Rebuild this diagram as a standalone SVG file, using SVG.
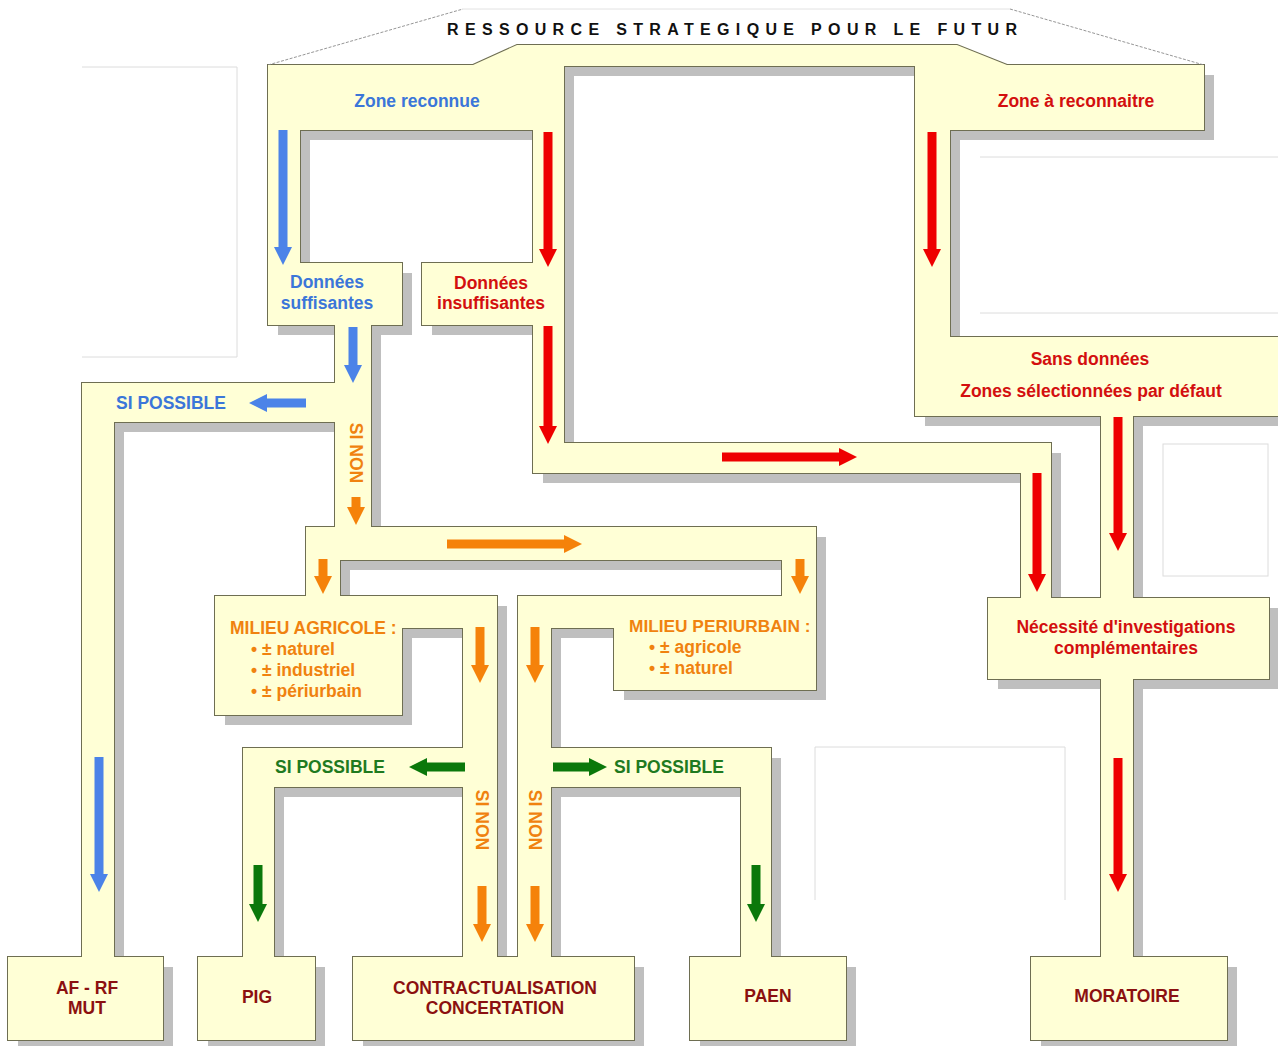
<svg xmlns="http://www.w3.org/2000/svg" xmlns:xlink="http://www.w3.org/1999/xlink" width="1278" height="1046" viewBox="0 0 1278 1046">
<style>
.sh{fill:#bfbfbf;stroke:none}
.ol{fill:none;stroke:#6e6e52;stroke-width:2}
.fi{fill:#ffffd6;stroke:none}
text{font-family:"Liberation Sans",Arial,Helvetica,sans-serif;font-weight:bold}
.t16{font-size:17.5px}
.t17{font-size:17.5px}
.blue{fill:#3b76d9}
.red{fill:#d30f0f}
.org{fill:#f0820f}
.grn{fill:#1f7a1f}
.drd{fill:#8b1010}
.mid{text-anchor:middle}
.faint{fill:none;stroke:#dcdcdc;stroke-width:1}
.hdr{fill:none;stroke:#8a8a8a;stroke-width:0.9;stroke-dasharray:3 1.5}
.hdr2{fill:none;stroke:#e2e2e2;stroke-width:1}
.ab{stroke:#4b83e8;stroke-width:9;fill:none;marker-end:url(#mb)}
.ar{stroke:#ee0000;stroke-width:9;fill:none;marker-end:url(#mr)}
.ao{stroke:#f5820a;stroke-width:9;fill:none;marker-end:url(#mo)}
.ag{stroke:#0b780b;stroke-width:9;fill:none;marker-end:url(#mg)}
</style>
<defs>
<marker id="mb" markerUnits="userSpaceOnUse" markerWidth="18" markerHeight="18" viewBox="0 0 18 18" refX="1" refY="9" orient="auto"><path d="M0,0 L18,9 L0,18 z" fill="#4b83e8"/></marker>
<marker id="mr" markerUnits="userSpaceOnUse" markerWidth="18" markerHeight="18" viewBox="0 0 18 18" refX="1" refY="9" orient="auto"><path d="M0,0 L18,9 L0,18 z" fill="#ee0000"/></marker>
<marker id="mo" markerUnits="userSpaceOnUse" markerWidth="18" markerHeight="18" viewBox="0 0 18 18" refX="1" refY="9" orient="auto"><path d="M0,0 L18,9 L0,18 z" fill="#f5820a"/></marker>
<marker id="mg" markerUnits="userSpaceOnUse" markerWidth="18" markerHeight="18" viewBox="0 0 18 18" refX="1" refY="9" orient="auto"><path d="M0,0 L18,9 L0,18 z" fill="#0b780b"/></marker>
<polygon id="p-top" points="268,65 473,65 517,45 957,45 1007,65 1204,65 1204,66 268,66"/>
<rect id="r-zr" x="268" y="65" width="296" height="65"/>
<rect id="r-zar" x="915" y="65" width="289" height="65"/>
<rect id="r-v1" x="268" y="130" width="32" height="133"/>
<rect id="r-b1" x="268" y="263" width="134" height="62"/>
<rect id="r-v2" x="335" y="325" width="36" height="202"/>
<rect id="r-h1" x="82" y="383" width="253" height="39"/>
<rect id="r-v3" x="82" y="422" width="32" height="535"/>
<rect id="r-afrf" x="8" y="957" width="155" height="83"/>
<rect id="r-v4a" x="533" y="130" width="31" height="133"/>
<rect id="r-b2" x="422" y="263" width="142" height="62"/>
<rect id="r-v4b" x="533" y="325" width="31" height="118"/>
<rect id="r-h2" x="533" y="443" width="518" height="30"/>
<rect id="r-v5" x="1021" y="473" width="30" height="125"/>
<rect id="r-v6" x="915" y="130" width="35" height="207"/>
<rect id="r-sd" x="915" y="337" width="380" height="79"/>
<rect id="r-v7" x="1101" y="416" width="32" height="182"/>
<rect id="r-nec" x="988" y="598" width="281" height="81"/>
<rect id="r-v8" x="1101" y="679" width="32" height="278"/>
<rect id="r-mor" x="1031" y="957" width="196" height="83"/>
<rect id="r-h4" x="306" y="527" width="510" height="33"/>
<rect id="r-v9" x="306" y="560" width="34" height="36"/>
<rect id="r-v10" x="782" y="560" width="34" height="36"/>
<polygon id="p-agr" points="215,596 497,596 497,628 402,628 402,715 215,715"/>
<rect id="r-v11" x="463" y="628" width="34" height="329"/>
<rect id="r-h5" x="243" y="748" width="220" height="39"/>
<rect id="r-v12" x="243" y="787" width="31" height="170"/>
<rect id="r-pig" x="198" y="957" width="117" height="83"/>
<rect id="r-con" x="353" y="957" width="281" height="83"/>
<polygon id="p-peri" points="518,596 816,596 816,690 614,690 614,628 518,628"/>
<rect id="r-v13" x="518" y="628" width="33" height="329"/>
<rect id="r-h6" x="551" y="748" width="220" height="39"/>
<rect id="r-v14" x="741" y="787" width="30" height="170"/>
<rect id="r-paen" x="690" y="957" width="156" height="83"/>
<g id="net">
<use xlink:href="#p-top"/><use xlink:href="#r-zr"/><use xlink:href="#r-zar"/><use xlink:href="#r-v1"/><use xlink:href="#r-b1"/><use xlink:href="#r-v2"/><use xlink:href="#r-h1"/><use xlink:href="#r-v3"/><use xlink:href="#r-afrf"/><use xlink:href="#r-v4a"/><use xlink:href="#r-b2"/><use xlink:href="#r-v4b"/><use xlink:href="#r-h2"/><use xlink:href="#r-v5"/><use xlink:href="#r-v6"/><use xlink:href="#r-sd"/><use xlink:href="#r-v7"/><use xlink:href="#r-nec"/><use xlink:href="#r-v8"/><use xlink:href="#r-mor"/><use xlink:href="#r-h4"/><use xlink:href="#r-v9"/><use xlink:href="#r-v10"/><use xlink:href="#p-agr"/><use xlink:href="#r-v11"/><use xlink:href="#r-h5"/><use xlink:href="#r-v12"/><use xlink:href="#r-pig"/><use xlink:href="#r-con"/><use xlink:href="#p-peri"/><use xlink:href="#r-v13"/><use xlink:href="#r-h6"/><use xlink:href="#r-v14"/><use xlink:href="#r-paen"/>
</g>
</defs>
<rect width="1278" height="1046" fill="#ffffff"/>
<g id="background-lines">
<polyline class="faint" points="82,67 237,67 237,357 82,357"/>
<line class="faint" x1="980" y1="157" x2="1278" y2="157"/>
<line class="faint" x1="980" y1="313" x2="1278" y2="313"/>
<rect class="faint" x="1163" y="444" width="105" height="132"/>
<polyline class="faint" points="815,900 815,747 1065,747 1065,900"/>
</g>
<g id="shadows"><use xlink:href="#net" class="sh" transform="translate(10,10)"/></g>
<g id="outlines"><use xlink:href="#net" class="ol"/></g>
<g id="header">
<line class="hdr2" x1="463" y1="9" x2="1010" y2="9"/>
<line class="hdr" x1="268" y1="65" x2="463" y2="9"/>
<line class="hdr" x1="1010" y1="9" x2="1204" y2="65"/>
<use xlink:href="#p-top" class="fi"/>
<text x="447" y="35" style="font-size:16px" fill="#111111" textLength="570" lengthAdjust="spacing">RESSOURCE STRATEGIQUE POUR LE FUTUR</text>
</g>
<g id="node-zone-reconnue"><use xlink:href="#r-zr" class="fi"/><text class="t16 blue mid" x="417" y="107">Zone reconnue</text></g>
<g id="node-zone-a-reconnaitre"><use xlink:href="#r-zar" class="fi"/><text class="t16 red mid" x="1076" y="107">Zone à reconnaitre</text></g>
<g id="node-donnees-suffisantes"><use xlink:href="#r-b1" class="fi"/><text class="t17 blue mid" x="327" y="288">Données</text><text class="t17 blue mid" x="327" y="309">suffisantes</text></g>
<g id="node-donnees-insuffisantes"><use xlink:href="#r-b2" class="fi"/><text class="t17 red mid" x="491" y="289">Données</text><text class="t17 red mid" x="491" y="309">insuffisantes</text></g>
<g id="node-sans-donnees"><use xlink:href="#r-sd" class="fi"/><text class="t17 red mid" x="1090" y="365">Sans données</text><text class="t17 red mid" x="1091" y="397">Zones sélectionnées par défaut</text></g>
<g id="node-necessite"><use xlink:href="#r-nec" class="fi"/><text class="t17 red mid" x="1126" y="633">Nécessité d'investigations</text><text class="t17 red mid" x="1126" y="654">complémentaires</text></g>
<g id="node-milieu-agricole"><use xlink:href="#p-agr" class="fi"/>
<text class="org t17" x="230" y="634">MILIEU AGRICOLE :</text>
<text class="org t17" x="251" y="655">• ± naturel</text>
<text class="org t17" x="251" y="676">• ± industriel</text>
<text class="org t17" x="251" y="697">• ± périurbain</text></g>
<g id="node-milieu-periurbain"><use xlink:href="#p-peri" class="fi"/>
<text class="org" style="font-size:17.3px" x="629" y="632">MILIEU PERIURBAIN :</text>
<text class="org t17" x="649" y="653">• ± agricole</text>
<text class="org t17" x="649" y="674">• ± naturel</text></g>
<g id="node-afrf"><use xlink:href="#r-afrf" class="fi"/><text class="t17 drd mid" x="87" y="994">AF - RF</text><text class="t17 drd mid" x="87" y="1014">MUT</text></g>
<g id="node-pig"><use xlink:href="#r-pig" class="fi"/><text class="t17 drd mid" x="257" y="1003">PIG</text></g>
<g id="node-contractualisation"><use xlink:href="#r-con" class="fi"/><text class="t17 drd mid" x="495" y="994">CONTRACTUALISATION</text><text class="t17 drd mid" x="495" y="1014">CONCERTATION</text></g>
<g id="node-paen"><use xlink:href="#r-paen" class="fi"/><text class="t17 drd mid" x="768" y="1002">PAEN</text></g>
<g id="node-moratoire"><use xlink:href="#r-mor" class="fi"/><text class="t17 drd mid" x="1127" y="1002">MORATOIRE</text></g>
<g id="connectors">
<use xlink:href="#r-v1" class="fi"/><use xlink:href="#r-v2" class="fi"/><use xlink:href="#r-h1" class="fi"/><use xlink:href="#r-v3" class="fi"/>
<use xlink:href="#r-v4a" class="fi"/><use xlink:href="#r-v4b" class="fi"/><use xlink:href="#r-h2" class="fi"/><use xlink:href="#r-v5" class="fi"/>
<use xlink:href="#r-v6" class="fi"/><use xlink:href="#r-v7" class="fi"/><use xlink:href="#r-v8" class="fi"/>
<use xlink:href="#r-h4" class="fi"/><use xlink:href="#r-v9" class="fi"/><use xlink:href="#r-v10" class="fi"/>
<use xlink:href="#r-v11" class="fi"/><use xlink:href="#r-h5" class="fi"/><use xlink:href="#r-v12" class="fi"/>
<use xlink:href="#r-v13" class="fi"/><use xlink:href="#r-h6" class="fi"/><use xlink:href="#r-v14" class="fi"/>
<line class="ab" x1="283" y1="130" x2="283" y2="248"/>
<line class="ab" x1="353" y1="327" x2="353" y2="366"/>
<line class="ab" x1="306" y1="403" x2="266" y2="403"/>
<line class="ab" x1="99" y1="757" x2="99" y2="875"/>
<line class="ar" x1="548" y1="132" x2="548" y2="250"/>
<line class="ar" x1="548" y1="326" x2="548" y2="427"/>
<line class="ar" x1="722" y1="457" x2="840" y2="457"/>
<line class="ar" x1="1037" y1="473" x2="1037" y2="575"/>
<line class="ar" x1="932" y1="132" x2="932" y2="250"/>
<line class="ar" x1="1118" y1="417" x2="1118" y2="534"/>
<line class="ar" x1="1118" y1="758" x2="1118" y2="875"/>
<line class="ao" x1="356" y1="497" x2="356" y2="508"/>
<line class="ao" x1="447" y1="544" x2="565" y2="544"/>
<line class="ao" x1="323" y1="559" x2="323" y2="577"/>
<line class="ao" x1="800" y1="559" x2="800" y2="577"/>
<line class="ao" x1="480" y1="627" x2="480" y2="666"/>
<line class="ao" x1="535" y1="627" x2="535" y2="666"/>
<line class="ao" x1="482" y1="886" x2="482" y2="925"/>
<line class="ao" x1="535" y1="886" x2="535" y2="925"/>
<line class="ag" x1="465" y1="767" x2="426" y2="767"/>
<line class="ag" x1="553" y1="767" x2="590" y2="767"/>
<line class="ag" x1="258" y1="865" x2="258" y2="905"/>
<line class="ag" x1="756" y1="865" x2="756" y2="905"/>
<text class="t17 blue" x="116" y="409">SI POSSIBLE</text>
<text class="t17 grn" x="275" y="773">SI POSSIBLE</text>
<text class="t17 grn" x="614" y="773">SI POSSIBLE</text>
<text class="t17 org mid" transform="translate(356,453) rotate(90)" x="0" y="6">SI NON</text>
<text class="t17 org mid" transform="translate(482,820) rotate(90)" x="0" y="6">SI NON</text>
<text class="t17 org mid" transform="translate(535,820) rotate(90)" x="0" y="6">SI NON</text>
</g>
</svg>
